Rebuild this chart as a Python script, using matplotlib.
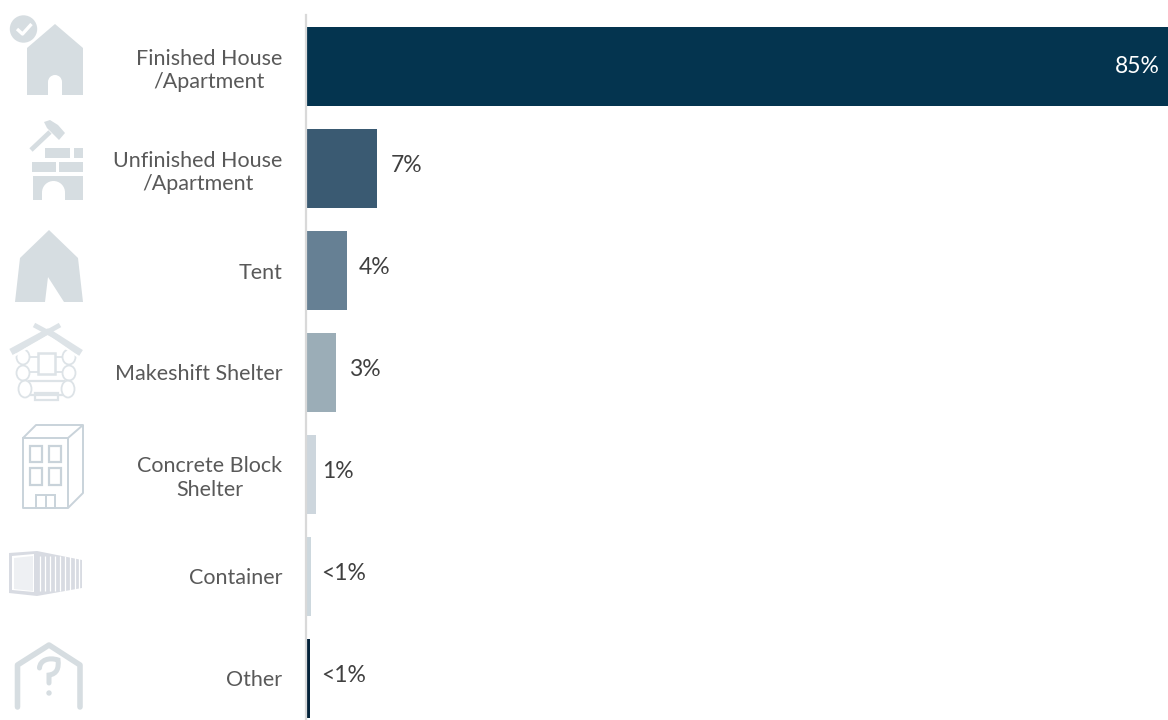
import matplotlib
matplotlib.use('Agg')
import matplotlib.pyplot as plt
from matplotlib.patches import Polygon, Circle, Rectangle, Ellipse, PathPatch
from matplotlib.path import Path

categories = ['Finished House\n/Apartment', 'Unfinished House\n/Apartment', 'Tent', 'Makeshift Shelter',
              'Concrete Block\nShelter', 'Container', 'Other']
values = [85, 7, 4, 3, 1, 0.5, 0.4]
value_labels = ['85%', '7%', '4%', '3%', '1%', '<1%', '<1%']
bar_colors = ['#04344f', '#3a5a72', '#668094', '#9badb7', '#cdd6dd', '#cdd8de', '#04233a']

ICON = '#d6dde1'
ICON_LINE = '#dde3e7'
BUILDING = '#c9d3da'
CONTAINER = '#d8dbe2'
WHITE = '#ffffff'

plt.rcParams['font.family'] = ['Lato', 'DejaVu Sans']

fig = plt.figure(figsize=(11.68, 7.2), dpi=100)

# bars: the axes spans pixel x 306-1168, y 15-720
ax = fig.add_axes([306 / 1168, 0, 862 / 1168, 705 / 720])
y_pos = list(range(len(categories)))
ax.barh(y_pos, values, height=79 / 102, color=bar_colors, linewidth=0)
ax.set_xlim(0, 85)
ax.set_ylim(6.407, -0.505)
ax.set_xticks([])
ax.set_yticks(y_pos)
ax.set_yticklabels(categories, fontsize=15.5, color='#595959', ha='right', multialignment='center',
                   linespacing=1.2)
ax.tick_params(axis='y', length=0, pad=17)
for s in ['top', 'right', 'bottom']:
    ax.spines[s].set_visible(False)
ax.spines['left'].set_color('#d9d9d9')
ax.spines['left'].set_linewidth(1.6)
ax.patch.set_alpha(0)

# gap between bar end and its value label, in points
gaps = [0, 10, 9, 9, 4, 7, 8]
for i, (v, lab) in enumerate(zip(values, value_labels)):
    if i == 0:
        ax.annotate(lab, (v, i), xytext=(-6, 0), textcoords='offset points', ha='right', va='center',
                    fontsize=16.5, color='white')
    else:
        ax.annotate(lab, (v, i), xytext=(gaps[i], 2), textcoords='offset points', ha='left', va='center',
                    fontsize=16.5, color='#404040')

# overlay in pixel coordinates for the icons
ic = fig.add_axes([0, 0, 1, 1], zorder=-1)
ic.set_xlim(0, 1168)
ic.set_ylim(720, 0)
ic.axis('off')


def poly(pts, color=ICON):
    ic.add_patch(Polygon(pts, closed=True, facecolor=color, edgecolor='none'))


def rect(x0, y0, x1, y1, color=ICON):
    ic.add_patch(Rectangle((x0, y0), x1 - x0, y1 - y0, facecolor=color, edgecolor='none'))


def outline(x0, y0, x1, y1, color=ICON_LINE, lw=1.3):
    ic.add_patch(Rectangle((x0, y0), x1 - x0, y1 - y0, fill=False, edgecolor=color, linewidth=lw))


def line(xs, ys, color=ICON_LINE, lw=1.3, cap='butt'):
    ic.plot(xs, ys, color=color, linewidth=lw, solid_capstyle=cap, solid_joinstyle='round')


def door(x0, x1, top, bottom):
    r = (x1 - x0) / 2
    rect(x0, top + r, x1, bottom, WHITE)
    ic.add_patch(Ellipse((x0 + r, top + r), 2 * r, 2 * r, facecolor=WHITE, edgecolor='none'))


# finished house
poly([(27, 95), (27, 48), (55, 24), (83, 48), (83, 95)])
door(48, 62, 75, 95.5)
ic.add_patch(Circle((23.5, 29), 16, facecolor=WHITE, edgecolor='none'))
ic.add_patch(Circle((23.5, 29), 13.7, facecolor=ICON, edgecolor='none'))
line([17, 22.5, 31.5], [29, 34, 24], color=WHITE, lw=2.4)

# unfinished house: bricks and hammer
rect(45, 148, 70, 158)
rect(74, 148, 83, 158)
rect(32, 162, 56, 172)
rect(59, 162, 83, 172)
rect(33, 176, 83, 200)
door(42, 65, 181, 200.5)
line([31, 50], [150, 132], color=ICON, lw=3.4)
poly([(44, 122), (50, 120), (58, 125), (65, 133), (59, 140), (52, 133), (47, 128)])

# tent
poly([(15, 302), (20, 258), (49, 230), (78, 258), (83, 302), (64, 302), (48, 277), (45, 302)])

# log cabin
line([11, 48, 81], [352, 332, 353], lw=5)
line([12, 48, 80], [357, 336, 358], color=WHITE, lw=1.6)
line([34, 60], [325, 339], lw=3.5)
line([60, 35], [325, 339], lw=3.5)
for cy, h, xl, xr in [(357, 15, 23, 69), (373, 15, 23, 69), (389, 17, 25, 68)]:
    ic.add_patch(Ellipse((xl, cy), 13, h, fill=False, edgecolor=ICON_LINE, linewidth=1.3))
    ic.add_patch(Ellipse((xr, cy), 13, h, fill=False, edgecolor=ICON_LINE, linewidth=1.3))
outline(38, 353, 55, 374, lw=1.8)
line([30, 38], [357, 357])
line([55, 62], [357, 357])
line([30, 38], [372, 372])
line([55, 62], [372, 372])
line([28, 65], [381, 381], lw=1.6)
line([30, 63], [395, 395], lw=1.6)
outline(35, 393, 58, 400, lw=1.6)

# concrete block
line([23, 36, 83, 68, 23, 23, 68, 68], [438, 425, 425, 438, 438, 508, 508, 438], color=BUILDING, lw=1.4)
line([83, 83, 68], [425, 493, 508], color=BUILDING, lw=1.4)
for x0, x1 in [(30, 42), (49, 61)]:
    outline(x0, 446, x1, 462, color=BUILDING, lw=1.6)
    outline(x0, 468, x1, 485, color=BUILDING, lw=1.6)
outline(36, 495, 55, 508, color=BUILDING, lw=1.4)
line([45.5, 45.5], [495, 508], color=BUILDING, lw=1.4)

# shipping container
poly([(9, 553), (37, 551), (82, 560), (82, 588), (37, 596), (9, 593)], CONTAINER)
poly([(12, 556), (34, 554), (34, 592), (12, 590)], WHITE)
poly([(14, 558), (33, 556), (33, 591), (14, 589)], '#eef0f3')
for x in [40, 45, 50, 55, 60, 65, 70, 75, 79]:
    line([x, x], [556, 591], color=WHITE, lw=0.9)

# unknown shelter with a question mark
line([17.5, 17.5, 49, 80, 80], [707, 665, 645, 665, 707], color=ICON, lw=4, cap='round')
verts = [(39.5, 668), (40, 660), (49, 657), (58, 660), (59, 668), (57, 674), (49, 675), (49, 683)]
codes = [Path.MOVETO, Path.CURVE4, Path.CURVE4, Path.CURVE4, Path.CURVE4, Path.CURVE4, Path.CURVE4, Path.LINETO]
ic.add_patch(PathPatch(Path(verts, codes), fill=False, edgecolor=ICON, linewidth=3.6, capstyle='round'))
ic.add_patch(Circle((49, 693), 2.7, facecolor=ICON, edgecolor='none'))

fig.savefig('out.png', dpi=100)
